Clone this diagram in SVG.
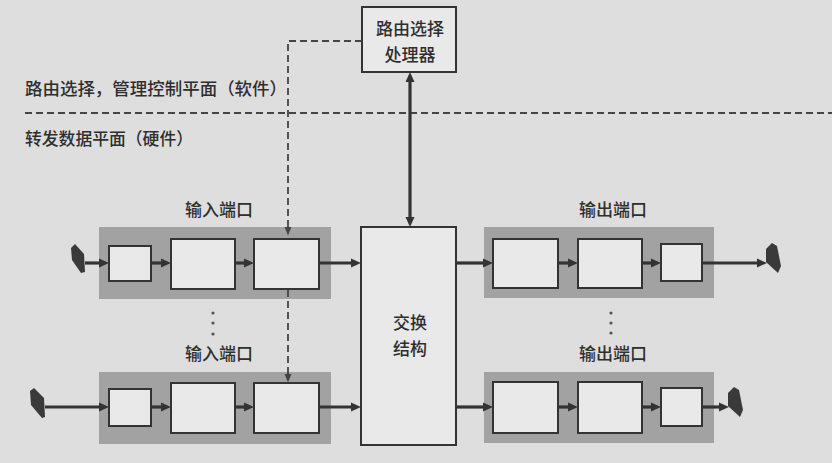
<svg xmlns="http://www.w3.org/2000/svg" width="832" height="463" viewBox="0 0 832 463">
<style>
  .bg { fill: #dedede; }
  .port { fill: #a2a2a2; }
  .box { fill: #e9e9e9; stroke: #333; stroke-width: 2; }
  .txt { font-family: "Noto Sans CJK SC", "Noto Sans", sans-serif; fill: #2e2e2e; font-size: 17px; font-weight: 500; }
  .mid { text-anchor: middle; }
  .arrow { stroke: #333; stroke-width: 3.2; fill: none; }
  .dash { stroke: #444; stroke-width: 1.8; stroke-dasharray: 7 4; fill: none; }
  .plug { fill: #3a3a3a; }
</style>
<defs>
  <marker id="ah" viewBox="0 0 10 10" markerUnits="userSpaceOnUse" markerWidth="10" markerHeight="10" refX="4" refY="5" orient="auto-start-reverse">
    <path d="M0,0.5 L10,5 L0,9.5 z" fill="#333"/>
  </marker>
  <marker id="dh" viewBox="0 0 10 10" markerUnits="userSpaceOnUse" markerWidth="9" markerHeight="9" refX="5" refY="5" orient="auto">
    <path d="M0,1 L10,5 L0,9 z" fill="#444"/>
  </marker>
</defs>
<rect class="bg" x="0" y="0" width="832" height="463"/>

<g id="plane-labels">
  <text class="txt" x="25" y="95" textLength="262" lengthAdjust="spacingAndGlyphs">路由选择，管理控制平面（软件）</text>
  <text class="txt" x="25" y="145" textLength="168" lengthAdjust="spacingAndGlyphs">转发数据平面（硬件）</text>
</g>

<g id="routing-processor">
  <rect class="box" x="362" y="7" width="94" height="65"/>
  <text class="txt mid" x="410" y="35" font-size="17.5">路由选择</text>
  <text class="txt mid" x="410" y="61" font-size="17.5">处理器</text>
</g>

<g id="switch-fabric">
  <rect class="box" x="361" y="227" width="95" height="218"/>
  <text class="txt mid" x="410" y="329" font-size="17.5">交换</text>
  <text class="txt mid" x="410" y="355" font-size="17.5">结构</text>
</g>

<g id="input-port-1">
  <text class="txt mid" x="219" y="216">输入端口</text>
  <rect class="port" x="99" y="227" width="232" height="72"/>
  <rect class="box" x="109" y="246" width="42" height="35"/>
  <rect class="box" x="171" y="239" width="64" height="50"/>
  <rect class="box" x="254" y="239" width="65" height="50"/>
  <polygon class="plug" points="71,248 75,244 84,254 85,272 81,273 72,260"/>
</g>

<g id="input-port-2">
  <text class="txt mid" x="219" y="360">输入端口</text>
  <rect class="port" x="99" y="372" width="232" height="72"/>
  <rect class="box" x="109" y="389" width="42" height="37"/>
  <rect class="box" x="171" y="383" width="64" height="50"/>
  <rect class="box" x="254" y="383" width="65" height="50"/>
  <polygon class="plug" points="30,391 34,388 44,398 45,417 42,418 31,405"/>
</g>

<g id="output-port-1">
  <text class="txt mid" x="613" y="216">输出端口</text>
  <rect class="port" x="484" y="227" width="230" height="71"/>
  <rect class="box" x="493" y="239" width="65" height="49"/>
  <rect class="box" x="578" y="239" width="64" height="49"/>
  <rect class="box" x="661" y="244" width="41" height="37"/>
  <polygon class="plug" points="766,249 772,243 777,246 781,266 778,273 766,262"/>
</g>

<g id="output-port-2">
  <text class="txt mid" x="613" y="360">输出端口</text>
  <rect class="port" x="484" y="372" width="230" height="71"/>
  <rect class="box" x="493" y="382" width="65" height="51"/>
  <rect class="box" x="578" y="382" width="64" height="51"/>
  <rect class="box" x="661" y="388" width="41" height="38"/>
  <polygon class="plug" points="728,393 734,387 739,390 743,410 740,417 728,406"/>
</g>

<g id="ellipses" fill="#555">
  <circle cx="213" cy="313" r="1.6"/>
  <circle cx="213" cy="323" r="1.6"/>
  <circle cx="213" cy="334" r="1.6"/>
  <circle cx="611" cy="313" r="1.6"/>
  <circle cx="611" cy="323" r="1.6"/>
  <circle cx="611" cy="333" r="1.6"/>
</g>

<g id="connectors">
  <line class="dash" x1="25" y1="113" x2="832" y2="113"/>
  <polyline class="dash" points="362,41 288,41 288,231" marker-end="url(#dh)"/>
  <line class="dash" x1="288" y1="290" x2="288" y2="378" marker-end="url(#dh)"/>
  <line class="arrow" x1="410" y1="78" x2="410" y2="221" marker-start="url(#ah)" marker-end="url(#ah)"/>

  <line class="arrow" x1="85" y1="263" x2="103" y2="263" marker-end="url(#ah)"/>
  <line class="arrow" x1="151" y1="263" x2="165" y2="263" marker-end="url(#ah)"/>
  <line class="arrow" x1="235" y1="263" x2="248" y2="263" marker-end="url(#ah)"/>
  <line class="arrow" x1="319" y1="263" x2="355" y2="263" marker-end="url(#ah)"/>

  <line class="arrow" x1="45" y1="407" x2="103" y2="407" marker-end="url(#ah)"/>
  <line class="arrow" x1="151" y1="407" x2="165" y2="407" marker-end="url(#ah)"/>
  <line class="arrow" x1="235" y1="407" x2="248" y2="407" marker-end="url(#ah)"/>
  <line class="arrow" x1="319" y1="407" x2="355" y2="407" marker-end="url(#ah)"/>

  <line class="arrow" x1="456" y1="263" x2="487" y2="263" marker-end="url(#ah)"/>
  <line class="arrow" x1="558" y1="263" x2="572" y2="263" marker-end="url(#ah)"/>
  <line class="arrow" x1="642" y1="263" x2="655" y2="263" marker-end="url(#ah)"/>
  <line class="arrow" x1="702" y1="263" x2="761" y2="263" marker-end="url(#ah)"/>

  <line class="arrow" x1="456" y1="407" x2="487" y2="407" marker-end="url(#ah)"/>
  <line class="arrow" x1="558" y1="407" x2="572" y2="407" marker-end="url(#ah)"/>
  <line class="arrow" x1="642" y1="407" x2="655" y2="407" marker-end="url(#ah)"/>
  <line class="arrow" x1="702" y1="407" x2="723" y2="407" marker-end="url(#ah)"/>
</g>
</svg>
